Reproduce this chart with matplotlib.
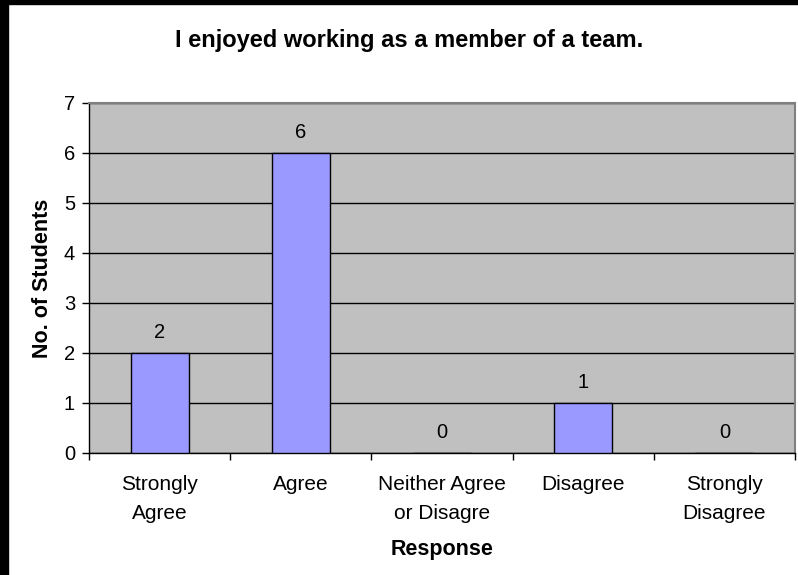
import matplotlib.pyplot as plt
from matplotlib.patches import Rectangle

plt.rcParams['font.family'] = ['Liberation Sans', 'DejaVu Sans']

responses = ["Strongly\nAgree", "Agree", "Neither Agree\nor Disagre", "Disagree", "Strongly\nDisagree"]
students = [2, 6, 0, 1, 0]
y_ticks = [0, 1, 2, 3, 4, 5, 6, 7]

fig = plt.figure(figsize=(7.98, 5.75), dpi=100)
fig.patch.set_facecolor('white')

# black frame strips at the left and top edges
fig.patches.append(Rectangle((0, 0), 8 / 798, 1, transform=fig.transFigure, color='black', zorder=10))
fig.patches.append(Rectangle((0, 1 - 4 / 575), 1, 4 / 575, transform=fig.transFigure, color='black', zorder=10))

ax = fig.add_axes([89 / 798, 1 - 453 / 575, (795 - 89) / 798, 350 / 575])
ax.set_facecolor('#C0C0C0')

x = list(range(len(responses)))
bars = ax.bar(x, students, width=0.41, color='#9999FF', edgecolor='black', linewidth=1, zorder=3)
for xi, v in zip(x, students):
    ax.text(xi, v + 0.22, str(v), ha='center', va='bottom', fontsize=14.5, zorder=4)

ax.set_xlim(-0.5, len(responses) - 0.5)
ax.set_ylim(0, 7)
ax.set_yticks(y_ticks)
ax.tick_params(axis='y', length=5, width=1, labelsize=14.5, pad=5, color='black')
ax.yaxis.grid(True, color='black', linewidth=1, zorder=1)
ax.set_axisbelow(True)

# category labels between boundary ticks
ax.set_xticks([i - 0.5 for i in range(len(responses) + 1)])
ax.set_xticklabels([])
ax.set_xticks(x, minor=True)
ax.set_xticklabels(responses, minor=True, fontsize=15, linespacing=1.65)
ax.tick_params(axis='x', which='minor', length=0, pad=16)
ax.tick_params(axis='x', which='major', length=5, width=1, color='black')

for side in ['top', 'right']:
    ax.spines[side].set_color('#808080')
    ax.spines[side].set_linewidth(1.5)
for side in ['left', 'bottom']:
    ax.spines[side].set_color('black')
    ax.spines[side].set_linewidth(1)

ax.set_ylabel("No. of Students", fontsize=15.5, fontweight='bold', labelpad=7.5)
ax.set_xlabel("Response", fontsize=15.5, fontweight='bold', labelpad=11.5)
fig.text(409.5 / 798, 1 - 40 / 575, "I enjoyed working as a member of a team.", ha='center', va='center',
         fontsize=17, fontweight='bold')

fig.savefig("out.png", dpi=100)
